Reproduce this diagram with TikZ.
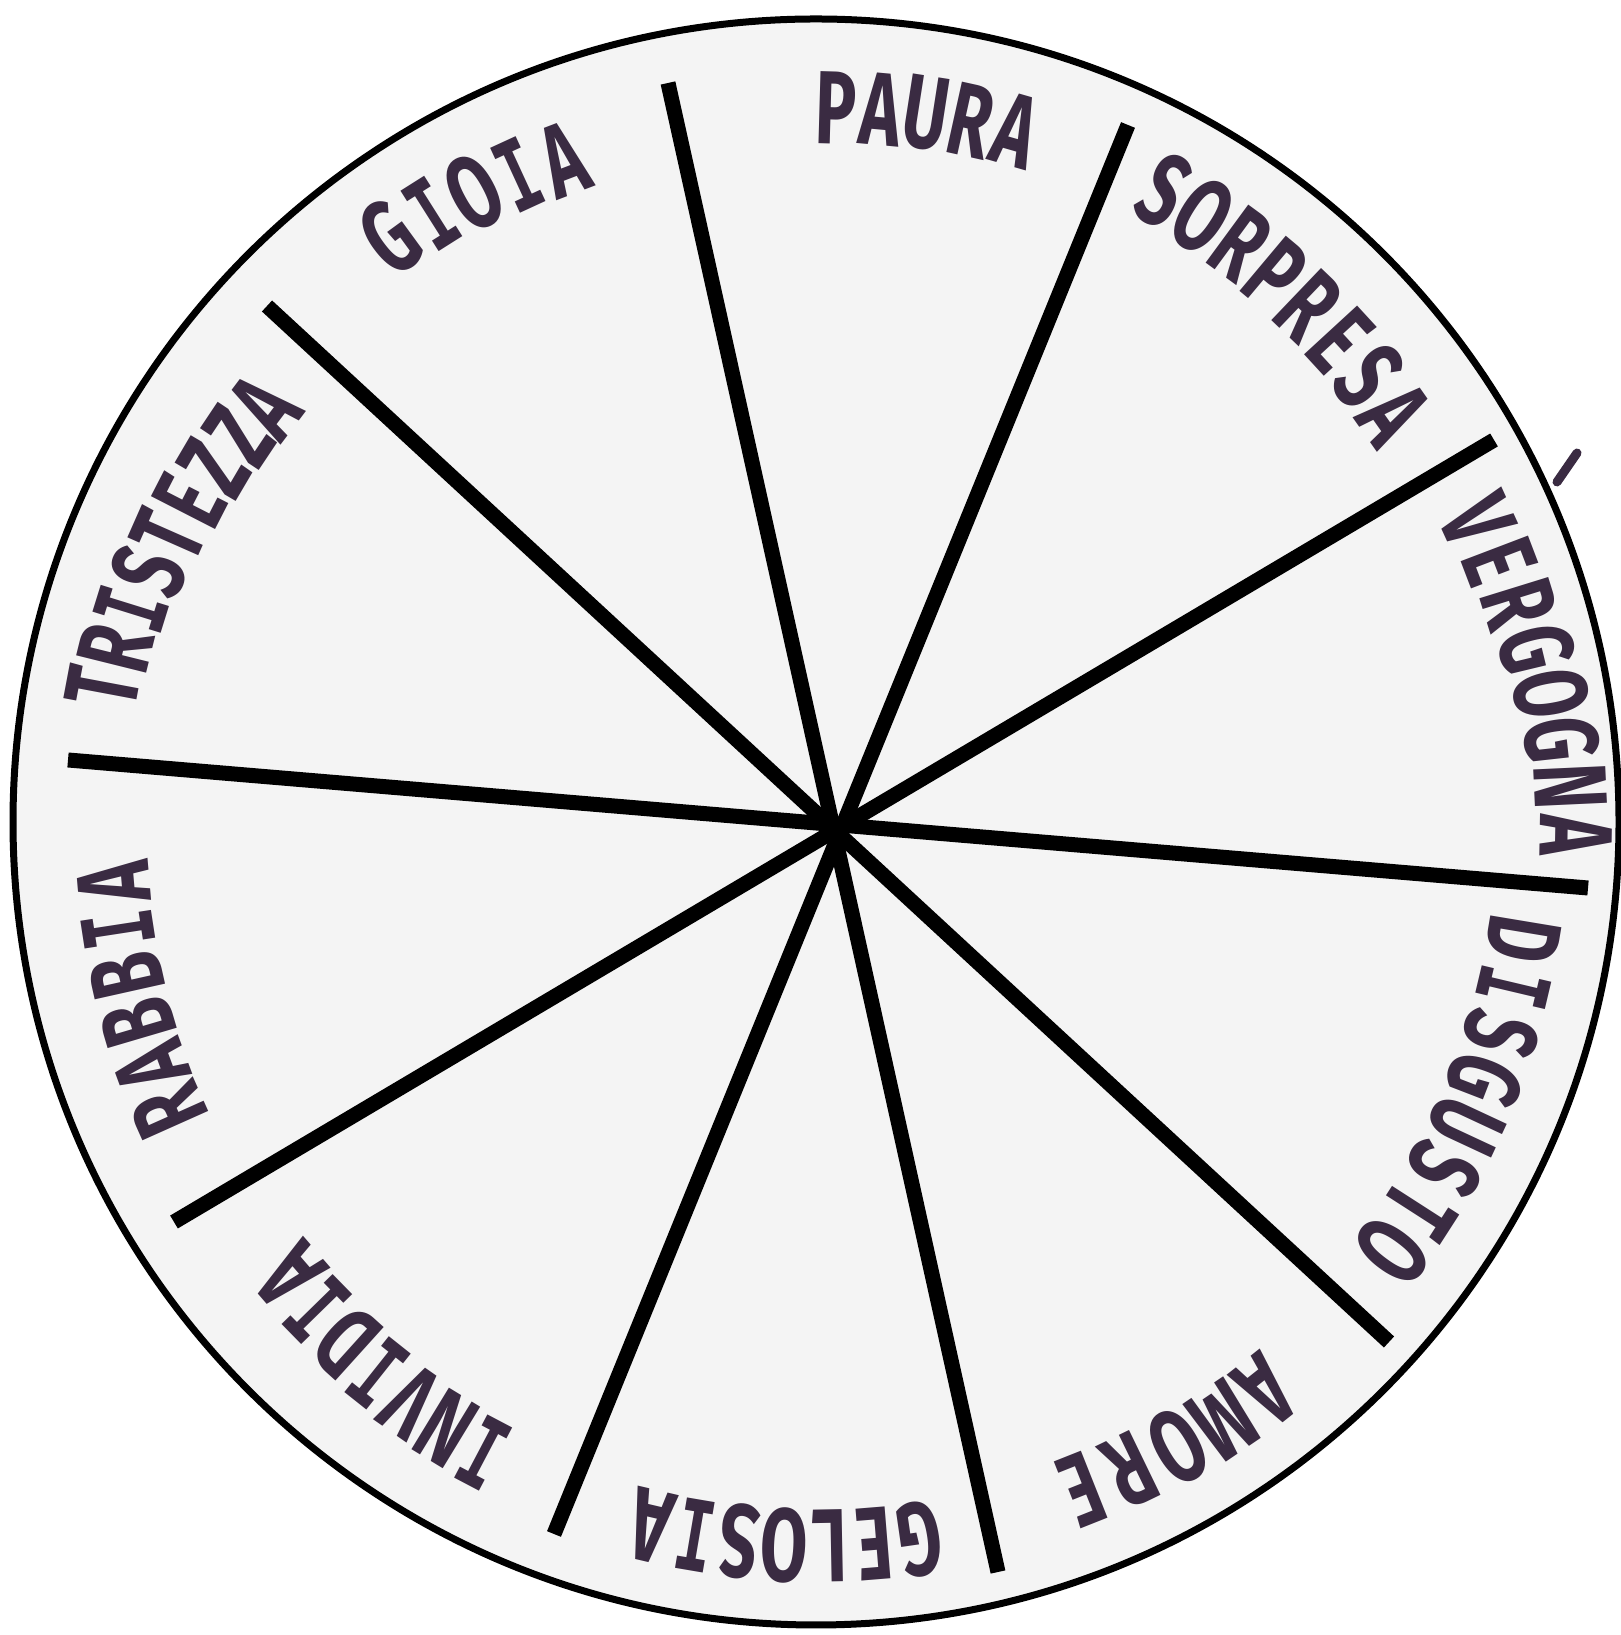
\documentclass[tikz,border=0pt]{standalone}
\usepackage{fontspec}
\newfontfamily\lblfamily{Fira Sans}
\newfontfamily\slabfamily{DejaVu Sans Mono}
\usetikzlibrary{calc}
\definecolor{wheelfill}{HTML}{F4F4F4}
\definecolor{lbl}{RGB}{58,43,66}
\newcommand\lblfont{\lblfamily\bfseries\fontsize{104}{104}\selectfont}
\newcommand\slabI{{\slabfamily\bfseries\fontsize{98}{98}\selectfont I}}
% #1 name, #2 letters, #3 count, #4 start angle, #5 end angle, #6 first radius, #7 last radius
\newcommand\wheelword[7]{%
  \foreach \ch [count=\i] in {#2} {%
    \pgfmathsetmacro\ang{#4-(\i-0.5)*(#4-#5)/#3}%
    \pgfmathsetmacro\rad{#6+(\i-1)*(#7-#6)/(#3-1)}%
    \node[rotate=\ang-90, letter] (#1-\i) at ($(C)+(\ang:\rad)$) {\ch};
  }}
\begin{document}
\begin{tikzpicture}[x=1pt,y=1pt,
  spoke/.style={line width=15pt,black},
  rim/.style={line width=7pt,black},
  tick/.style={lbl,line width=9pt,line cap=round},
  letter/.style={xscale=0.66,inner sep=0pt,text=lbl,font=\lblfont}]
\useasboundingbox (0,0) rectangle (1620,1635);
\coordinate (C) at (816,813);
\fill[wheelfill] (C) circle (803);
% spoke end points
\coordinate (a1) at (668,1552); \coordinate (a2) at (998,63);
\coordinate (b1) at (1128,1510); \coordinate (b2) at (554,101);
\coordinate (c1) at (1494,1195); \coordinate (c2) at (174,413);
\coordinate (d1) at (68,875);   \coordinate (d2) at (1588,747);
\coordinate (e1) at (267,1329); \coordinate (e2) at (1389,293);
\draw[spoke] (a1) -- (a2);
\draw[spoke] (b1) -- (b2);
\draw[spoke] (c1) -- (c2);
\draw[spoke] (d1) -- (d2);
\draw[spoke] (e1) -- (e2);
% stray mark outside the rim
\coordinate (m1) at (1557,1153); \coordinate (m2) at (1577,1182);
\draw[tick] (m1) -- (m2);
\draw[rim] (C) circle (803);
% labels
\wheelword{paura}{P,A,U,R,A}{5}{90.2}{72.1}{714}{720}
\wheelword{sorpresa}{S,O,R,P,R,E,S,A}{8}{63}{33.3}{721}{708}
\wheelword{vergogna}{V,E,R,G,O,G,N,A}{8}{26.3}{-2.8}{727}{760}
\wheelword{disgusto}{D,\slabI,S,G,U,S,T,O}{8}{-7.5}{-38.6}{717}{718}
\wheelword{amore}{A,M,O,R,E}{5}{-49.5}{-70.4}{725}{719}
\wheelword{gelosia}{G,E,L,O,S,\slabI,A}{7}{-80}{-105}{725}{723}
\wheelword{invidia}{\slabI,N,V,\slabI,D,\slabI,A}{7}{-116}{-141}{713}{695}
\wheelword{rabbia}{R,A,B,B,\slabI,A}{6}{-154}{-177}{709}{705}
\wheelword{tristezza}{T,R,\slabI,S,T,E,Z,Z,A}{9}{171}{141.3}{726}{690}
\wheelword{gioia}{G,\slabI,O,\slabI,A}{5}{128}{109}{723}{709}
\end{tikzpicture}
\end{document}
